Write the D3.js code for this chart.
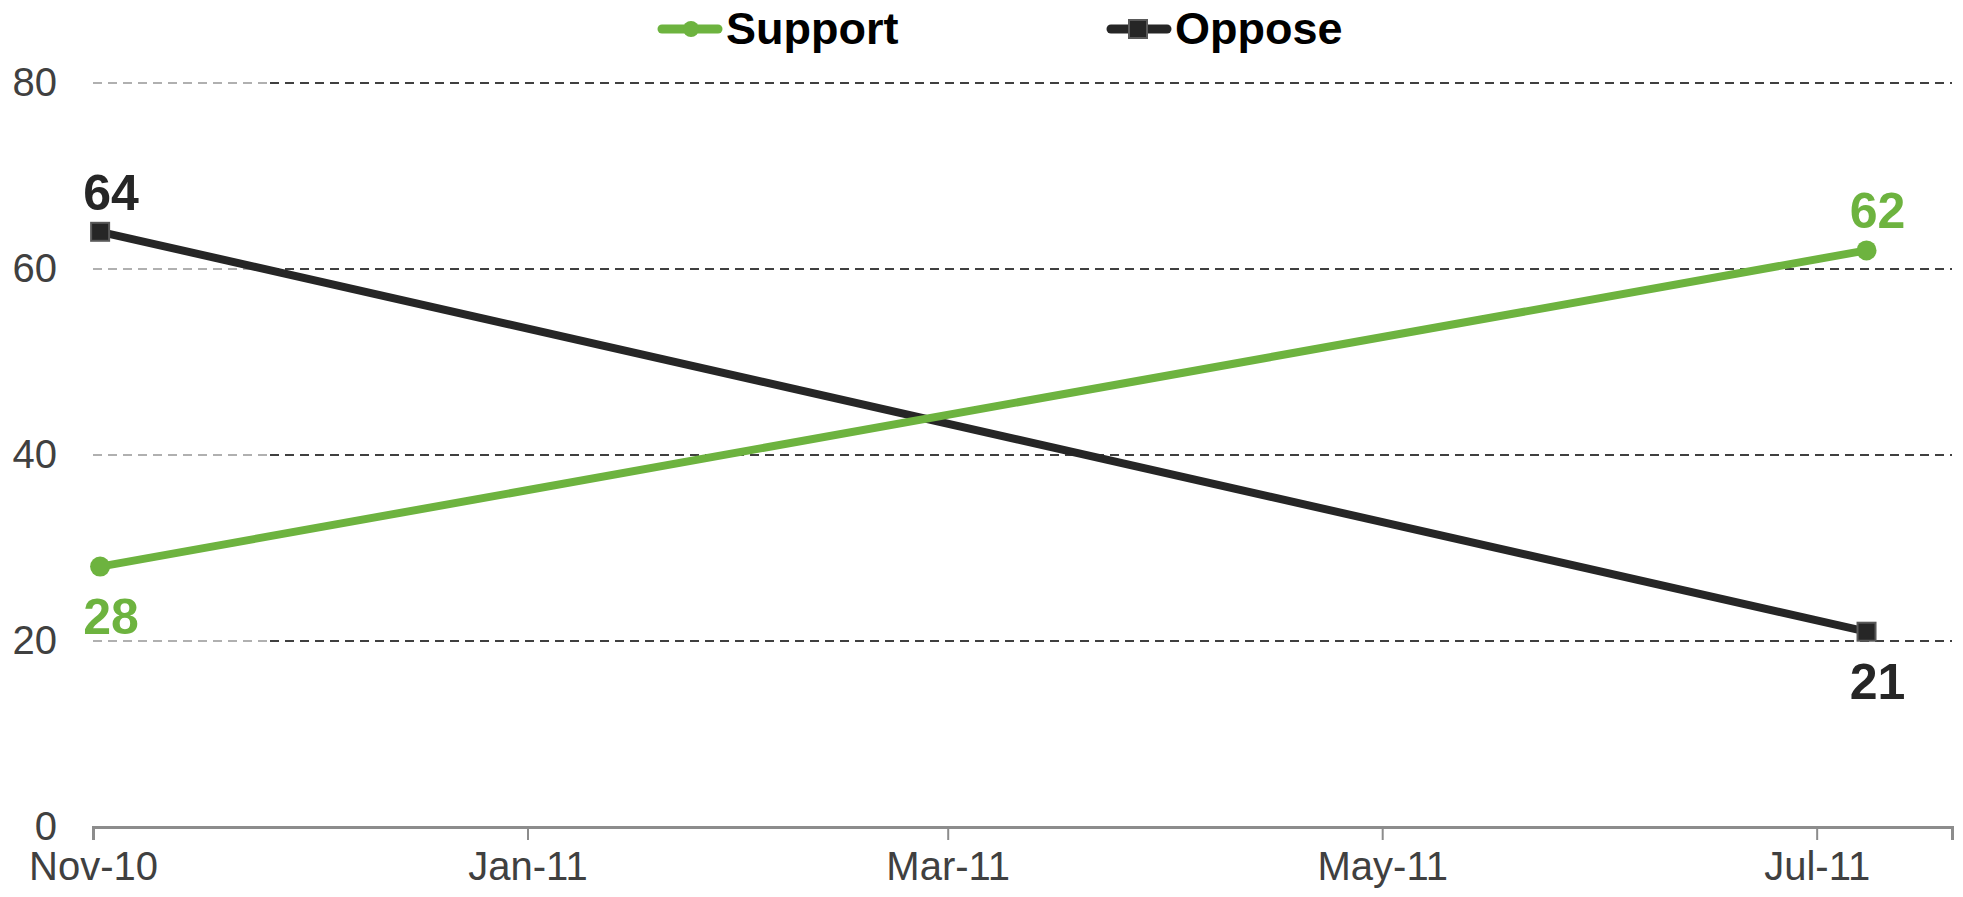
<!DOCTYPE html>
<html lang="en">
  <head>
    <meta charset="utf-8" />
    <title>Support vs Oppose</title>
    <style>
      body { margin: 0; background: #fff; }
      svg { display: block; font-family: "Liberation Sans", Arial, sans-serif; }
    </style>
  </head>
  <body>
    <div id="chart"></div>
    <script src="https://cdnjs.cloudflare.com/ajax/libs/d3/7.8.5/d3.min.js"></script>
    <script>
      // data
      const pollDates = ["2010-11-02", "2011-07-08"];
      const supportValues = [28, 62];
      const opposeValues = [64, 21];
      const seriesNames = ["Support", "Oppose"];
      const yTicks = [0, 20, 40, 60, 80];
      const xTickDates = ["2010-11-01", "2011-01-01", "2011-03-01", "2011-05-01", "2011-07-01"];
      const xDomain = ["2010-11-01", "2011-07-20"];
      // where each value label sits relative to its point
      const supportLabelSide = ["below", "above"];
      const opposeLabelSide = ["above", "below"];

      const width = 1963, height = 897;
      const plotLeft = 93, plotRight = 1952, plotTop = 83, plotBottom = 827;
      const green = "#6db33f", dark = "#262626";

      const parse = d3.timeParse("%Y-%m-%d");

      const x = d3.scaleTime()
        .domain(xDomain.map(parse))
        .range([plotLeft, plotRight]);
      const y = d3.scaleLinear()
        .domain([0, 80])
        .range([plotBottom, plotTop]);

      const svg = d3.select("#chart").append("svg")
        .attr("width", width)
        .attr("height", height);

      // gridlines (left end drawn lighter, as in the original)
      const grid = svg.append("g");
      yTicks.filter(t => t > 0).forEach(t => {
        grid.append("line")
          .attr("x1", plotLeft).attr("x2", 270)
          .attr("y1", y(t)).attr("y2", y(t))
          .attr("stroke", "#b0b0b0").attr("stroke-width", 2)
          .attr("stroke-dasharray", "9,6");
        grid.append("line")
          .attr("x1", 270).attr("x2", plotRight)
          .attr("y1", y(t)).attr("y2", y(t))
          .attr("stroke", "#404040").attr("stroke-width", 2)
          .attr("stroke-dasharray", "9,6");
      });

      // y labels
      svg.append("g")
        .attr("transform", `translate(${plotLeft},0)`)
        .call(d3.axisLeft(y).tickValues(yTicks).tickSize(0).tickPadding(36))
        .call(g => g.select(".domain").remove())
        .call(g => g.selectAll("text")
          .attr("font-size", 40)
          .attr("font-family", "Liberation Sans, Arial, sans-serif")
          .attr("fill", "#404040"));

      // x axis
      const fmt = d3.timeFormat("%b-%y");
      svg.append("g")
        .attr("transform", `translate(0,${plotBottom})`)
        .call(d3.axisBottom(x)
          .tickValues(xTickDates.map(parse))
          .tickFormat(fmt)
          .tickSizeOuter(0)
          .tickSize(13)
          .tickPadding(12))
        .call(g => g.select(".domain").attr("stroke", "#8c8c8c").attr("stroke-width", 3))
        .call(g => g.selectAll(".tick line").attr("stroke", "#8c8c8c").attr("stroke-width", 2))
        .call(g => g.selectAll("text")
          .attr("font-size", 40)
          .attr("font-family", "Liberation Sans, Arial, sans-serif")
          .attr("fill", "#404040"));

      const line = d3.line()
        .x(d => x(d.date))
        .y(d => y(d.value));

      const toPoints = (vals, sides) => vals.map((v, i) => ({ date: parse(pollDates[i]), value: v, side: sides[i] }));
      const support = toPoints(supportValues, supportLabelSide);
      const oppose = toPoints(opposeValues, opposeLabelSide);

      // oppose series
      svg.append("path").datum(oppose)
        .attr("d", line)
        .attr("fill", "none")
        .attr("stroke", dark)
        .attr("stroke-width", 8);
      svg.selectAll(".sq").data(oppose).enter().append("rect")
        .attr("x", d => x(d.date) - 9)
        .attr("y", d => y(d.value) - 9)
        .attr("width", 18).attr("height", 18)
        .attr("fill", dark)
        .attr("stroke", "#595959").attr("stroke-width", 2);

      // support series
      svg.append("path").datum(support)
        .attr("d", line)
        .attr("fill", "none")
        .attr("stroke", green)
        .attr("stroke-width", 8);
      svg.selectAll(".dot").data(support).enter().append("circle")
        .attr("cx", d => x(d.date))
        .attr("cy", d => y(d.value))
        .attr("r", 10)
        .attr("fill", green);

      // value labels
      const addLabels = (pts, color) => {
        svg.append("g").selectAll("text").data(pts).enter().append("text")
          .attr("x", d => x(d.date) + 11)
          .attr("y", d => y(d.value) + (d.side === "above" ? -22 : 67))
          .attr("text-anchor", "middle")
          .attr("font-size", 50)
          .attr("font-weight", "bold")
          .attr("fill", color)
          .text(d => d.value);
      };
      addLabels(support, green);
      addLabels(oppose, dark);

      // legend
      const legend = svg.append("g");
      const legendX = [658, 1107];
      const legendColors = [green, dark];
      seriesNames.forEach((name, i) => {
        const g = legend.append("g").attr("transform", `translate(${legendX[i]},29)`);
        g.append("line")
          .attr("x1", 4).attr("x2", 60)
          .attr("stroke", legendColors[i])
          .attr("stroke-width", 9)
          .attr("stroke-linecap", "round");
        if (i === 0) {
          g.append("circle").attr("cx", 33).attr("r", 8).attr("fill", green);
        } else {
          g.append("rect").attr("x", 22).attr("y", -9).attr("width", 18).attr("height", 18)
            .attr("fill", dark).attr("stroke", "#595959").attr("stroke-width", 2);
        }
        g.append("text")
          .attr("x", 68).attr("y", 15)
          .attr("font-size", 45)
          .attr("font-weight", "bold")
          .attr("fill", "#000")
          .text(name);
      });
    </script>
  </body>
</html>
